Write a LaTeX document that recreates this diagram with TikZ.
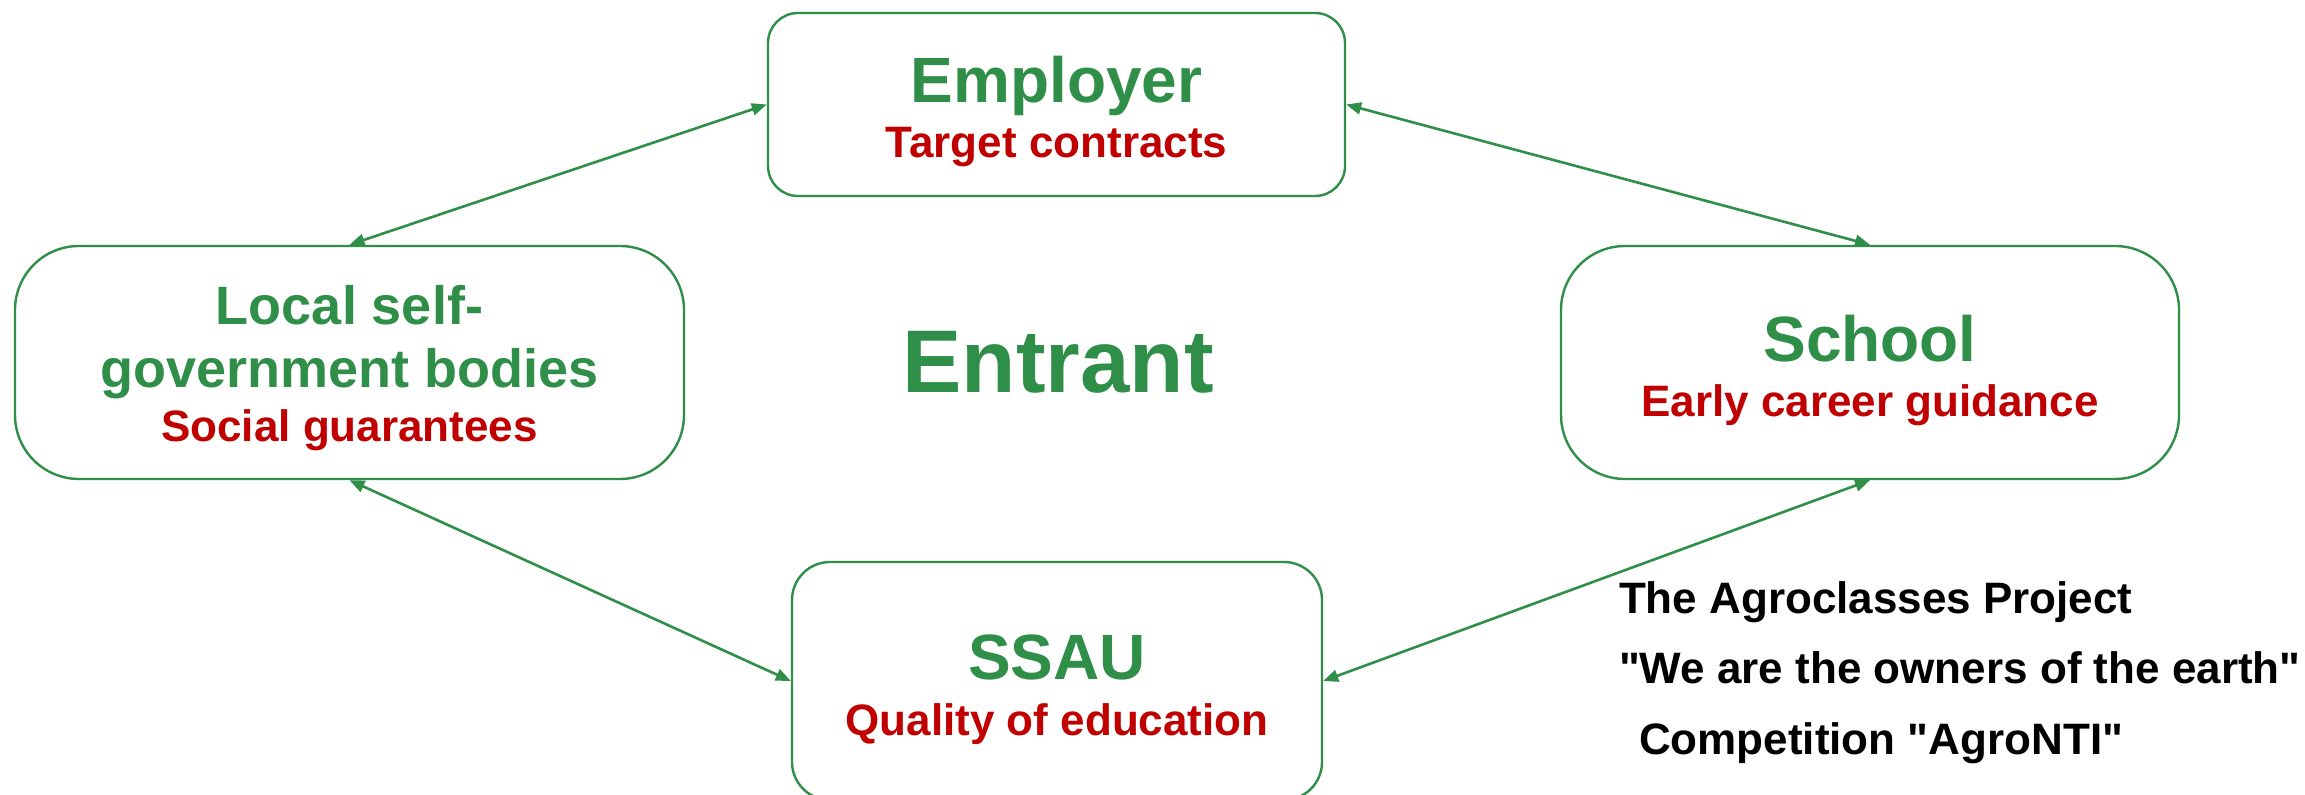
\documentclass[tikz,border=0pt]{standalone}
\usepackage{fontspec}
\setmainfont{Liberation Sans}[Ligatures=TeXOff]
\usetikzlibrary{arrows.meta,positioning}
\definecolor{agrogreen}{RGB}{47,142,72}
\definecolor{agrored}{RGB}{192,0,0}
\tikzset{
  party/.style={draw=agrogreen, line width=1.2pt, inner sep=0pt},
  title/.style={anchor=base, text=agrogreen, font=\fontsize{32}{38}\selectfont\bfseries},
  small title/.style={title, font=\fontsize{27}{32}\selectfont\bfseries},
  role/.style={anchor=base, text=agrored, font=\fontsize{22}{26}\selectfont\bfseries},
  note/.style={anchor=base west, font=\fontsize{22}{26}\selectfont\bfseries},
  link/.style={draw=agrogreen, line width=1.3pt,
    {Triangle[length=7.5pt,width=6pt]}-{Triangle[length=7.5pt,width=6pt]}}
}
\begin{document}
\begin{tikzpicture}[x=0.5pt,y=-0.5pt]
  \useasboundingbox (0,0) rectangle (2305,795);
  % boxes
  \node[party, rounded corners=15pt, minimum width=288.5pt, minimum height=91.5pt]
    (employer) at (1056.5,104.5) {};
  \node[party, rounded corners=32pt, minimum width=334.5pt, minimum height=116.5pt]
    (local) at (349.5,362.5) {};
  \node[party, rounded corners=32pt, minimum width=309pt, minimum height=116.5pt]
    (school) at (1870,362.5) {};
  \node[party, rounded corners=19pt, minimum width=265pt, minimum height=119pt]
    (ssau) at (1057,681) {};
  % texts
  \node[title] (employer title) at (1056.5,103) {Employer};
  \node[role] (employer role) at (1056.5,158) {Target contracts};
  \node[small title] (local title a) at (349.5,325) {Local self-};
  \node[small title] (local title b) at (349.5,388) {government bodies};
  \node[role] (local role) at (349.5,442) {Social guarantees};
  \node[title] (school title) at (1870,362) {School};
  \node[role] (school role) at (1870,417) {Early career guidance};
  \node[title] (ssau title) at (1057,679) {SSAU};
  \node[role] (ssau role) at (1057,735) {Quality of education};
  \node[title, font=\fontsize{44.5}{52}\selectfont\bfseries] (entrant) at (1058,393) {Entrant};
  \node[note] (project) at (1612,613) {The Agroclasses Project};
  \node[note] (owners) at (1612,683) {"We are the owners of the earth"};
  \node[note] (contest) at (1632,754) {Competition "AgroNTI"};
  % links
  \draw[link] (employer.west) -- (local.north);
  \draw[link] (employer.east) -- (school.north);
  \draw[link] (local.south) -- (ssau.west);
  \draw[link] (school.south) -- (ssau.east);
\end{tikzpicture}
\end{document}
